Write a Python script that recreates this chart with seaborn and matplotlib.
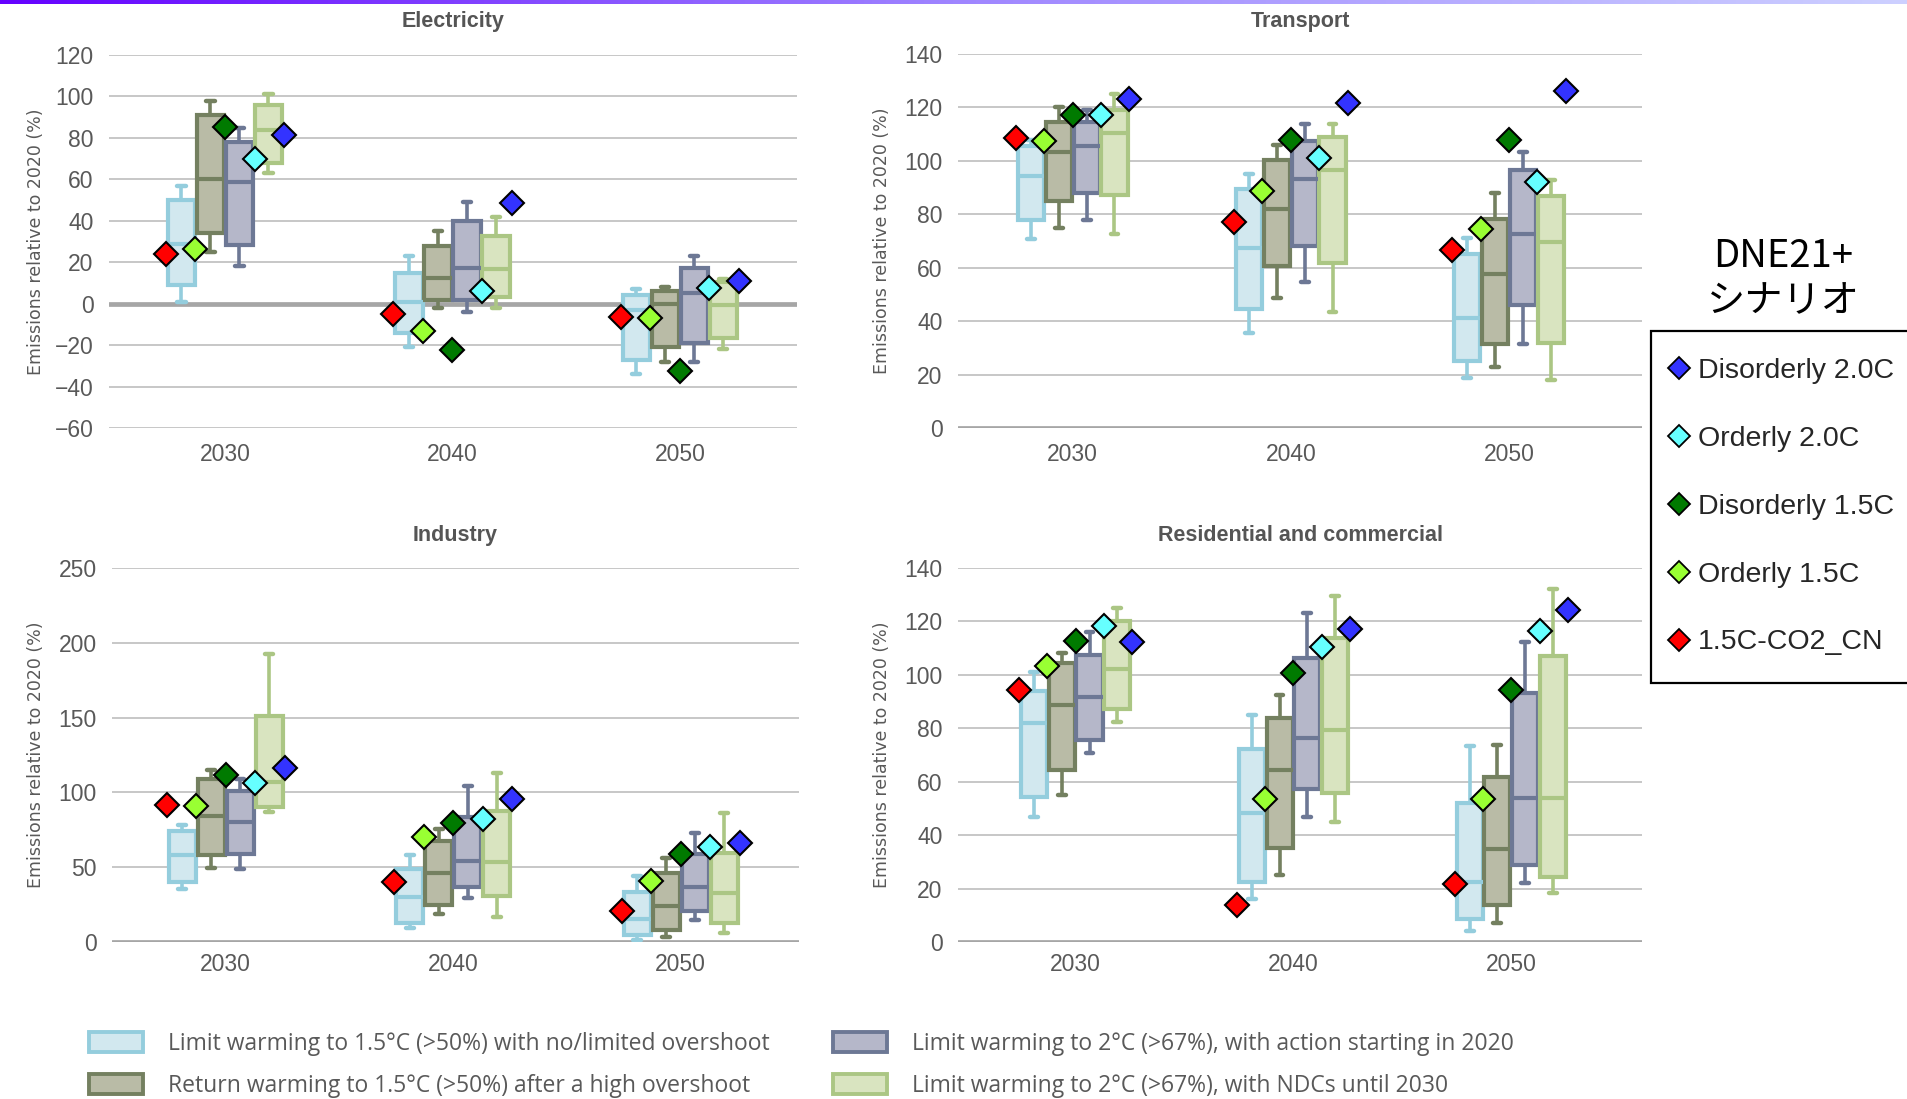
import numpy as np
import pandas as pd
import matplotlib
matplotlib.use('Agg')
import matplotlib.pyplot as plt
from matplotlib.colors import LinearSegmentedColormap
from matplotlib.lines import Line2D
from matplotlib.patches import Patch
import seaborn as sns

# Données
years = ['2030', '2040', '2050']

pathway_labels = [
    'Limit warming to 1.5°C (>50%) with no/limited overshoot',
    'Return warming to 1.5°C (>50%) after a high overshoot',
    'Limit warming to 2°C (>67%), with action starting in 2020',
    'Limit warming to 2°C (>67%), with NDCs until 2030',
]
pathway_fill = ['#d2e8ef', '#b9bba6', '#b5b7c9', '#d9e4c0']
pathway_edge = ['#94cddd', '#748060', '#6d7895', '#abc684']

scenario_labels = ['1.5C-CO2_CN', 'Orderly 1.5C', 'Disorderly 1.5C', 'Orderly 2.0C', 'Disorderly 2.0C']
scenario_colors = ['#ff0000', '#99ff33', '#007a00', '#66ffff', '#3333ff']
legend_order = ['Disorderly 2.0C', 'Orderly 2.0C', 'Disorderly 1.5C', 'Orderly 1.5C', '1.5C-CO2_CN']

# boîtes : [min, q1, médiane, q3, max] pour 2030, 2040, 2050
elec_c1 = [[1, 9, 29, 50, 57], [-21, -14, 1, 15, 23], [-34, -27, -3, 4, 7]]
elec_c2 = [[25, 34, 60, 91, 98], [-2, 2, 12.6, 28, 35], [-28, -21, 0, 6, 8]]
elec_c3a = [[18, 28.5, 58.6, 78, 85], [-4, 2, 17, 40, 49], [-28, -19, 5, 17, 23]]
elec_c3b = [[63, 68, 84, 96, 101], [-2, 3, 16.5, 32.5, 42], [-22, -16.7, -0.7, 10.5, 12]]

trans_c1 = [[70.6, 77.8, 94.2, 105.7, 107.9], [35.7, 44.4, 67.5, 89.6, 95.1], [18.9, 25.1, 41.1, 65, 71.2]]
trans_c2 = [[74.9, 85.1, 103.5, 114.7, 120.3], [48.5, 60.6, 82.1, 100.2, 105.8], [22.9, 31.6, 57.5, 78.3, 88]]
trans_c3a = [[78, 88, 105.4, 114.7, 119], [54.6, 68.1, 93.3, 107.3, 113.7], [31.4, 46, 72.7, 96.4, 103.5]]
trans_c3b = [[72.7, 87.4, 110.4, 119, 125], [43.6, 61.9, 96.4, 108.8, 113.7], [18, 32, 69.6, 87, 93]]

ind_c1 = [[35.6, 40.3, 58, 74.1, 77.9], [9.6, 12.9, 30.3, 49, 58], [1.3, 4.5, 15.2, 33.4, 44.1]]
ind_c2 = [[49.6, 58.1, 84.2, 108.7, 114.9], [18.5, 24.5, 46.3, 67.5, 75.3], [3.3, 8, 24.1, 46.3, 56.3]]
ind_c3a = [[48.5, 58.5, 80.2, 100.9, 109], [29.6, 37, 54.1, 83.7, 104.2], [14.7, 20.7, 36.7, 58.5, 72.6]]
ind_c3b = [[86.8, 90.2, 106.9, 151, 192.6], [16.7, 30.7, 53.4, 87.5, 113], [5.8, 12.9, 33, 59.7, 86.4]]

res_c1 = [[46.9, 54.4, 81.8, 93.9, 101], [16, 22.6, 48.4, 72.1, 85.1], [4.1, 8.7, 22.4, 52.1, 73.5]]
res_c2 = [[55, 64.3, 88.9, 104.5, 108.2], [24.9, 35.3, 64.3, 83.9, 92.6], [7.2, 13.7, 34.7, 61.8, 73.9]]
res_c3a = [[70.8, 75.8, 91.6, 107.6, 115.9], [46.7, 57.3, 76.4, 106.3, 123.2], [22.2, 29, 54, 93.2, 112.2]]
res_c3b = [[82.4, 87.4, 102.2, 120, 125], [45, 55.6, 79.3, 113.8, 129.4], [18.4, 24.3, 54, 107, 132.1]]

# losanges DNE21+ : une liste par scénario (2030, 2040, 2050), ordre de scenario_labels
elec_dne = [[24, -5, -6.3], [26.6, -13, -7], [85.4, -22.3, -32.7], [69.8, 6, 7.8], [81.4, 48.7, 10.8]]
trans_dne = [[108.5, 77, 66.8], [107.6, 88.9, 74.5], [117, 107.9, 107.9], [117.2, 101, 92], [123.2, 121.6, 126.3]]
ind_dne = [[91.3, 40.1, 20.7], [90.8, 70.3, 40.7], [111.5, 79.3, 58.5], [106, 82.4, 63.7], [116.4, 95.3, 66.3]]
res_dne = [[94.2, 13.7, 21.6], [103.2, 53.6, 53.6], [112.6, 100.7, 94.5], [118.2, 110.5, 116.3], [112.2, 117.2, 124.4]]


def box_frame(stats):
    rows = []
    for path, per_year in zip(pathway_labels, stats):
        for yr, five in zip(years, per_year):
            for v in five:
                rows.append({'year': yr, 'pathway': path, 'value': v})
    return pd.DataFrame(rows)


def dne_frame(vals):
    rows = []
    for scen, per_year in zip(scenario_labels, vals):
        for yr, v in zip(years, per_year):
            rows.append({'year': yr, 'scenario': scen, 'value': v})
    return pd.DataFrame(rows)


W, H = 1907, 1099
panels = [
    dict(title='Electricity', boxes=[elec_c1, elec_c2, elec_c3a, elec_c3b], dne=elec_dne,
         rect=[109, 55, 797, 428], ylim=(-60, 120), yticks=range(-60, 121, 20),
         xlim=(-0.51, 2.515), title_y=21, ylab_x=36, xpad=11),
    dict(title='Transport', boxes=[trans_c1, trans_c2, trans_c3a, trans_c3b], dne=trans_dne,
         rect=[958, 54, 1642, 428], ylim=(0, 140), yticks=range(0, 141, 20),
         xlim=(-0.526, 2.61), title_y=21, ylab_x=882, xpad=11),
    dict(title='Industry', boxes=[ind_c1, ind_c2, ind_c3a, ind_c3b], dne=ind_dne,
         rect=[112, 568, 799, 942], ylim=(0, 250), yticks=range(0, 251, 50),
         xlim=(-0.50, 2.52), title_y=535, ylab_x=36, xpad=8),
    dict(title='Residential and commercial', boxes=[res_c1, res_c2, res_c3a, res_c3b], dne=res_dne,
         rect=[958, 568, 1642, 942], ylim=(0, 140), yticks=range(0, 141, 20),
         xlim=(-0.54, 2.60), title_y=535, ylab_x=882, xpad=8),
]

sns.set_style('white')
plt.rcParams['font.family'] = ['Liberation Sans', 'DejaVu Sans']
plt.rcParams['axes.unicode_minus'] = True

fig = plt.figure(figsize=(W / 100, H / 100), dpi=100)

# bandeau dégradé en haut
bar = fig.add_axes([0, 1 - 4 / H, 1, 4 / H])
cmap = LinearSegmentedColormap.from_list('band', ['#6400ff', '#9f85ff', '#cdd0ff'])
bar.imshow(np.linspace(0, 1, 256)[None, :], aspect='auto', cmap=cmap)
bar.axis('off')

fill_pal = dict(zip(pathway_labels, pathway_fill))
dne_pal = dict(zip(scenario_labels, scenario_colors))
grey = '#595959'

for p in panels:
    x0, y0, x1, y1 = p['rect']
    ax = fig.add_axes([x0 / W, 1 - y1 / H, (x1 - x0) / W, (y1 - y0) / H])
    ax.axhline(0, color='#a6a6a6', lw=3.4, zorder=0.8)

    bdf = box_frame(p['boxes'])
    for i, path in enumerate(pathway_labels):
        n0 = len(ax.lines)
        sns.boxplot(data=bdf[bdf['pathway'] == path], x='year', y='value', hue='pathway',
                    order=years, hue_order=pathway_labels, palette=fill_pal, saturation=1,
                    width=0.51, gap=0.06, dodge=True, whis=(0, 100), showfliers=False,
                    linecolor=pathway_edge[i], linewidth=3.0, legend=False, ax=ax,
                    whiskerprops={'linewidth': 2.6}, capprops={'linewidth': 3.2})
        # raccourcir les moustaches horizontales (caps)
        for ln in ax.lines[n0:]:
            xd, yd = np.asarray(ln.get_xdata()), np.asarray(ln.get_ydata())
            if len(xd) == 2 and yd[0] == yd[1] and abs(xd[1] - xd[0]) < 0.09:
                c = (xd[0] + xd[1]) / 2
                ln.set_xdata([c - 0.018, c + 0.018])

    ddf = dne_frame(p['dne'])
    sns.pointplot(data=ddf, x='year', y='value', hue='scenario', order=years,
                  hue_order=scenario_labels, palette=dne_pal, markers='D', linestyles='none',
                  dodge=0.52, errorbar=None, markersize=12.2, markeredgecolor='black',
                  markeredgewidth=1.5, zorder=6, legend=False, ax=ax)

    ax.set_xlim(*p['xlim'])
    ax.set_ylim(*p['ylim'])
    ax.set_yticks(list(p['yticks']))
    ax.yaxis.grid(True, color='#c3c3c3', lw=1.3)
    ax.xaxis.grid(False)
    ax.set_axisbelow(True)
    for s in ax.spines.values():
        s.set_visible(False)
    ax.set_xlabel('')
    ax.set_ylabel('')
    ax.tick_params(axis='y', length=0, pad=11, labelsize=16.5, labelcolor=grey)
    ax.tick_params(axis='x', length=0, pad=p['xpad'], labelsize=16.5, labelcolor=grey)

    fig.text((x0 + x1) / 2 / W, 1 - p['title_y'] / H, p['title'], ha='center', va='center',
             fontsize=15.5, fontweight='bold', color='#555555')
    fig.text(p['ylab_x'] / W, 1 - (y0 + y1) / 2 / H, 'Emissions relative to 2020 (%)',
             rotation=90, ha='center', va='center', fontsize=12.5, color=grey,
             family=['DejaVu Sans'])

# légende du bas (boîtes)
bottom_pos = [(89, 1044), (89, 1086), (833, 1044), (833, 1086)]
for lab, fc, ec, (lx, ly) in zip(pathway_labels, pathway_fill, pathway_edge, bottom_pos):
    h = Patch(facecolor=fc, edgecolor=ec, linewidth=2.8)
    fig.legend(handles=[h], labels=[lab], loc='center left', bbox_to_anchor=(lx / W, 1 - ly / H),
               frameon=False, borderpad=0, borderaxespad=0, handlelength=2.36, handleheight=0.96,
               handletextpad=1.1, labelcolor=grey,
               prop={'family': ['Open Sans', 'DejaVu Sans'], 'size': 16.5})

# légende DNE21+
fig.text(1783 / W, 1 - 279 / H, 'DNE21+\nシナリオ', ha='center', va='center', fontsize=27.5,
         linespacing=1.18, family=['Noto Sans CJK JP', 'DejaVu Sans'], color='black')
handles = [Line2D([], [], linestyle='none', marker='D', markersize=11, markerfacecolor=dne_pal[s],
                  markeredgecolor='black', markeredgewidth=1.3) for s in legend_order]
leg = fig.legend(handles=handles, labels=legend_order, loc='upper left',
                 bbox_to_anchor=(1651 / W, 1 - 331 / H), borderaxespad=0, borderpad=0.95,
                 handlelength=0.1, handletextpad=0.6, labelspacing=1.47, fancybox=False,
                 framealpha=1, edgecolor='black',
                 prop={'family': ['Liberation Sans', 'DejaVu Sans'], 'size': 20.5})
leg.get_frame().set_linewidth(1.6)

fig.savefig('out.png', dpi=100)
